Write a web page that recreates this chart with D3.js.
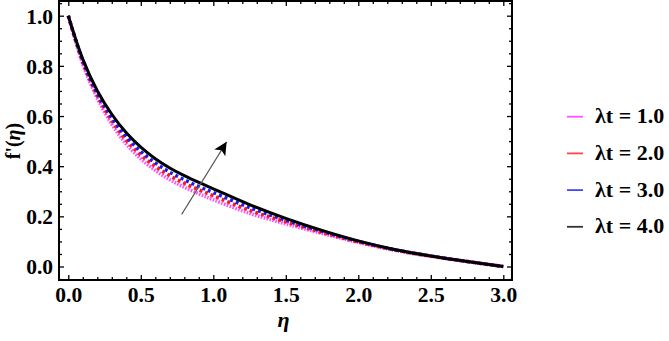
<!DOCTYPE html>
<html>
<head>
<meta charset="utf-8">
<script src="https://cdn.jsdelivr.net/npm/d3@7"></script>
<style>
  body { margin: 0; background: #fff; }
  text { font-family: "Liberation Serif", "Times New Roman", serif; font-weight: bold; }
</style>
</head>
<body>
<svg id="chart"></svg>
<script>
// eta values
var eta = [0, 0.1, 0.2, 0.3, 0.4, 0.5, 0.6, 0.7, 0.8, 0.9, 1.0, 1.25, 1.5, 1.75, 2.0, 2.25, 2.5, 2.75, 3.0];
var lt1 = [1.0, 0.807, 0.671, 0.567, 0.488, 0.429, 0.383, 0.346, 0.316, 0.290, 0.266, 0.212, 0.170, 0.132, 0.096, 0.065, 0.041, 0.020, 0.0];
var lt2 = [1.0, 0.814, 0.681, 0.581, 0.503, 0.445, 0.399, 0.362, 0.332, 0.306, 0.282, 0.224, 0.178, 0.136, 0.098, 0.066, 0.041, 0.020, 0.0];
var lt3 = [1.0, 0.820, 0.690, 0.593, 0.517, 0.459, 0.413, 0.376, 0.346, 0.319, 0.295, 0.235, 0.184, 0.140, 0.100, 0.067, 0.042, 0.020, 0.0];
var lt4 = [1.0, 0.827, 0.701, 0.607, 0.533, 0.476, 0.430, 0.393, 0.362, 0.335, 0.310, 0.247, 0.192, 0.144, 0.102, 0.068, 0.042, 0.020, 0.0];

var seriesNames = ["\u03bbt = 1.0", "\u03bbt = 2.0", "\u03bbt = 3.0", "\u03bbt = 4.0"];
var xTicks = [0, 0.5, 1.0, 1.5, 2.0, 2.5, 3.0];
var yTicks = [0, 0.2, 0.4, 0.6, 0.8, 1.0];
// arrow tail and head in data units
var arrowPts = [[0.782, 0.208], [1.092, 0.497]];

var unit = {width: 669, height: 341};
var m = {left: 59, right: 512, top: 1, bottom: 280};

var svg = d3.select('#chart')
	.attr('width', unit.width)
	.attr('height', unit.height);

var x = d3.scaleLinear().domain([-0.064, 3.06]).range([m.left, m.right]);
var y = d3.scaleLinear().domain([-0.0538, 1.0586]).range([m.bottom, m.top]);

var styles = [
	{color: '#ff4dff', legend: '#ff55ff', width: 3.5, dash: '1.6,1.4'},
	{color: '#ff1a1a', legend: '#ff4444', width: 3.6, dash: '3,3'},
	{color: '#1a1aff', legend: '#4444ff', width: 3.4, dash: '3,3'},
	{color: '#000000', legend: '#333333', width: 3, dash: null}
];
var series = [lt1, lt2, lt3, lt4];

// ticks, all four sides, inward
function minorRange(a, b, s) {
	var out = [];
	for (var i = 0; a + i * s <= b + 1e-9; i++) out.push(+(a + i * s).toFixed(3));
	return out;
}
var xMinor = minorRange(0, 3.0, 0.1).filter(function(d){ return xTicks.indexOf(d) < 0; });
var yMinor = minorRange(-0.05, 1.05, 0.05).filter(function(d){ return yTicks.indexOf(+d.toFixed(2)) < 0; });

function addAxis(axis, transform, labels) {
	var g = svg.append('g').attr('transform', transform).call(axis);
	g.select('.domain').remove();
	g.selectAll('line').attr('stroke', '#000').attr('stroke-width', 1.3);
	if (!labels) g.selectAll('text').remove();
	return g;
}

addAxis(d3.axisBottom(x).tickValues(xMinor).tickSize(-3).tickFormat(''), 'translate(0,' + m.bottom + ')', false);
addAxis(d3.axisTop(x).tickValues(xMinor).tickSize(-3).tickFormat(''), 'translate(0,' + m.top + ')', false);
addAxis(d3.axisTop(x).tickValues(xTicks).tickSize(-5).tickFormat(''), 'translate(0,' + m.top + ')', false);
addAxis(d3.axisLeft(y).tickValues(yMinor).tickSize(-3).tickFormat(''), 'translate(' + m.left + ',0)', false);
addAxis(d3.axisRight(y).tickValues(yMinor).tickSize(-3).tickFormat(''), 'translate(' + m.right + ',0)', false);
addAxis(d3.axisRight(y).tickValues(yTicks).tickSize(-5).tickFormat(''), 'translate(' + m.right + ',0)', false);

var gx = addAxis(d3.axisBottom(x).tickValues(xTicks).tickSize(-5).tickPadding(0).tickFormat(d3.format('.1f')),
	'translate(0,' + m.bottom + ')', true);
gx.selectAll('text').attr('y', 22).attr('dy', 0).attr('font-size', 21.5).attr('fill', '#000');

var gy = addAxis(d3.axisLeft(y).tickValues(yTicks).tickSize(-5).tickFormat(d3.format('.1f')),
	'translate(' + m.left + ',0)', true);
gy.selectAll('text').attr('x', -6).attr('dy', '0.34em').attr('font-size', 21.5).attr('fill', '#000');

// curves
var line = d3.line()
	.x(function(d){ return x(d[0]); })
	.y(function(d){ return y(d[1]); })
	.curve(d3.curveCatmullRom.alpha(0.5));

series.forEach(function(s, i){
	var pts = eta.map(function(e, j){ return [e, s[j]]; });
	svg.append('path')
		.datum(pts)
		.attr('d', line)
		.attr('fill', 'none')
		.attr('stroke', styles[i].color)
		.attr('stroke-width', styles[i].width)
		.attr('stroke-dasharray', styles[i].dash);
});

// arrow
svg.append('defs').append('marker')
	.attr('id', 'head')
	.attr('viewBox', '0 0 10 10')
	.attr('refX', 10).attr('refY', 5)
	.attr('markerWidth', 18).attr('markerHeight', 13)
	.attr('markerUnits', 'userSpaceOnUse')
	.attr('orient', 'auto')
	.append('path')
	.attr('d', 'M0,0 L10,5 L0,10 L2.5,5 Z')
	.attr('fill', '#000');

svg.append('line')
	.attr('x1', x(arrowPts[0][0])).attr('y1', y(arrowPts[0][1]))
	.attr('x2', x(arrowPts[1][0])).attr('y2', y(arrowPts[1][1]))
	.attr('stroke', '#555')
	.attr('stroke-width', 1.1)
	.attr('marker-end', 'url(#head)');

// frame
svg.append('rect')
	.attr('x', m.left).attr('y', m.top)
	.attr('width', m.right - m.left).attr('height', m.bottom - m.top)
	.attr('fill', 'none')
	.attr('stroke', '#000')
	.attr('stroke-width', 2);

// axis titles
svg.append('text')
	.attr('x', (m.left + m.right) / 2 - 2)
	.attr('y', 327)
	.attr('text-anchor', 'middle')
	.attr('font-size', 22)
	.attr('font-style', 'italic')
	.text('\u03b7');

var yl = svg.append('text')
	.attr('transform', 'translate(20,141) rotate(-90)')
	.attr('text-anchor', 'middle')
	.attr('font-size', 20);
yl.append('tspan').text("f'(");
yl.append('tspan').attr('font-style', 'italic').text('\u03b7');
yl.append('tspan').text(')');

// legend
var leg = svg.append('g');
seriesNames.forEach(function(name, i){
	var yy = 116.7 + i * 36.7;
	leg.append('line')
		.attr('x1', 567).attr('x2', 583)
		.attr('y1', yy).attr('y2', yy)
		.attr('stroke', styles[i].legend)
		.attr('stroke-width', 1.8);
	leg.append('text')
		.attr('x', 595).attr('y', yy)
		.attr('dy', '0.3em')
		.attr('font-size', 22)
		.text(name);
});
</script>
</body>
</html>
